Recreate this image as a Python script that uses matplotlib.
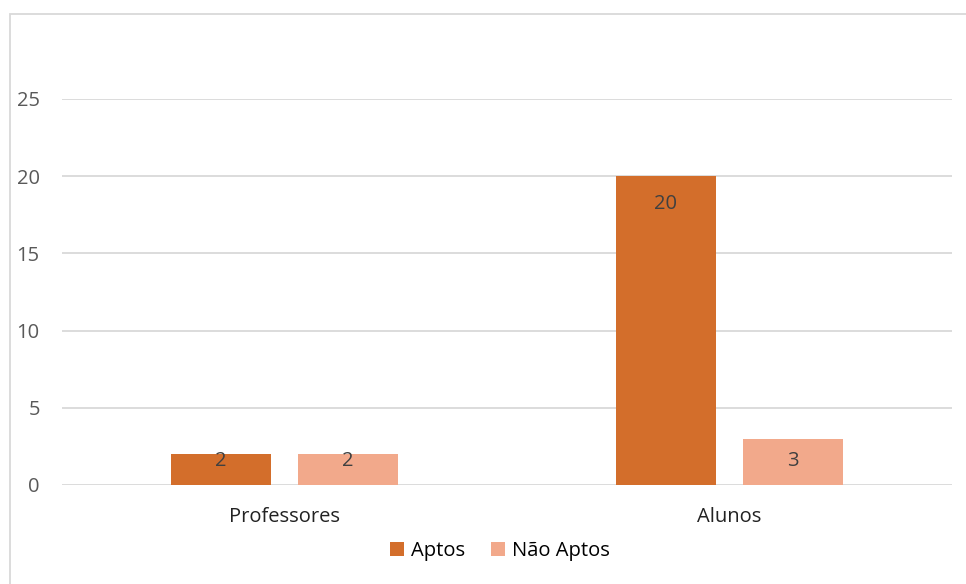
import numpy as np
import matplotlib.pyplot as plt
from matplotlib.patches import Rectangle

plt.rcParams['font.family'] = ['Open Sans', 'DejaVu Sans']

categorias = ['Professores', 'Alunos']
aptos = [2, 20]
nao_aptos = [2, 3]
series = ['Aptos', 'Não Aptos']
cores = ['#D36E2B', '#F2A98B']
yticks = [0, 5, 10, 15, 20, 25]

fig = plt.figure(figsize=(9.66, 5.84), dpi=100)
fig.patch.set_facecolor('white')
# moldura do gráfico
fig.patches.append(Rectangle((10 / 966, -0.1), 1.2, 1.1 - 14 / 584, transform=fig.transFigure,
                             fill=False, edgecolor='#D9D9D9', linewidth=1.3, zorder=0))

ax = fig.add_axes([62 / 966, 1 - 485 / 584, 890 / 966, 386 / 584])
x = np.arange(len(categorias))
w = 0.225
desl = 0.143
barras = []
for i, (vals, nome) in enumerate(zip([aptos, nao_aptos], series)):
    b = ax.bar(x + (i * 2 - 1) * desl, vals, w, color=cores[i], label=nome, zorder=3)
    barras.append(b)
    for xi, v in zip(x + (i * 2 - 1) * desl, vals):
        ax.text(xi, max(v - 1.8, 1.55), str(v), ha='center', va='center',
                fontsize=14.5, color='#404040', zorder=4)

ax.set_xlim(-0.5, 1.5)
ax.set_ylim(0, 25)
ax.set_yticks(yticks)
ax.set_xticks(x)
ax.set_xticklabels(categorias)
ax.grid(axis='y', color='#D9D9D9', linewidth=1.3, zorder=0)
ax.set_axisbelow(True)
for s in ax.spines.values():
    s.set_visible(False)
ax.tick_params(axis='y', length=0, pad=16, labelsize=14.5, labelcolor='#595959')
ax.tick_params(axis='x', length=0, pad=16, labelsize=14.5, labelcolor='#222222')

fig.legend(handles=barras, labels=series, loc='center', bbox_to_anchor=(500 / 966, 1 - 551 / 584),
           ncol=2, frameon=False, fontsize=14.5, handlelength=0.7, handleheight=0.7,
           handletextpad=0.35, columnspacing=1.3)

fig.savefig('out.png', dpi=100)
